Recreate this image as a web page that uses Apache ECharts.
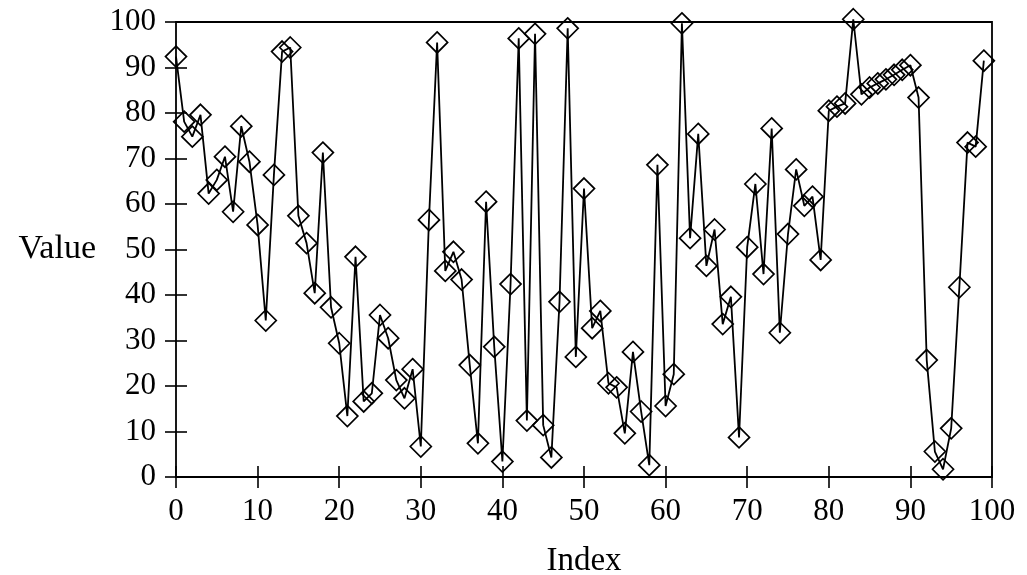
<!DOCTYPE html>
<html>
<head>
<meta charset="utf-8">
<script src="https://cdn.jsdelivr.net/npm/echarts@6/dist/echarts.min.js"></script>
<style>
  html, body { margin: 0; padding: 0; background: #fff; }
  #chart { width: 1027px; height: 575px; }
</style>
</head>
<body>
<div id="chart"></div>
<script>
// values, one per index 0..99
const values = [
  92.4, 78.1, 74.8, 79.6, 62.3, 65.3, 70.4, 58.3, 77.1, 69.3,
  55.4, 34.4, 66.4, 93.5, 94.4, 57.4, 51.4, 40.4, 71.3, 37.3,
  29.4, 13.4, 48.4, 16.6, 18.4, 35.6, 30.5, 21.3, 17.3, 23.7,
  6.7, 56.5, 95.5, 45.3, 49.5, 43.4, 24.6, 7.4, 60.5, 28.6,
  3.4, 42.4, 96.4, 12.4, 97.4, 11.4, 4.3, 38.5, 98.6, 26.4,
  63.4, 32.7, 36.5, 20.6, 19.7, 9.6, 27.5, 14.4, 2.6, 68.6,
  15.6, 22.6, 99.7, 52.5, 75.4, 46.4, 54.4, 33.6, 39.6, 8.7,
  50.5, 64.4, 44.6, 76.6, 31.7, 53.4, 67.6, 59.6, 61.6, 47.7,
  80.5, 81.4, 82.1, 100.6, 84.1, 85.6, 86.5, 87.4, 88.4, 89.5,
  90.5, 83.4, 25.7, 5.6, 1.7, 10.7, 41.7, 73.5, 72.6, 91.5
];
const xTitle = "Index";
const yTitle = "Value";

const points = values.map((v, i) => [i, v]);

const font = "Liberation Serif";
const tickStyle = { show: true, inside: true, length: 11, lineStyle: { color: "#000", width: 1.6 } };

const chart = echarts.init(document.getElementById("chart"));
chart.setOption({
  animation: false,
  backgroundColor: "#fff",
  grid: {
    left: 176, right: 35, top: 22, bottom: 98,
    outerBoundsMode: "none",
    containLabel: false,
    show: true, borderColor: "#000", borderWidth: 1.8,
  },
  xAxis: [
    {
      type: "value", min: 0, max: 100, interval: 10,
      name: xTitle, nameLocation: "middle", nameGap: 68,
      nameTextStyle: { fontFamily: font, fontSize: 33, color: "#000" },
      axisLine: { show: false },
      axisTick: tickStyle,
      axisLabel: { fontFamily: font, fontSize: 31, color: "#000", margin: 19 },
      splitLine: { show: false },
    },
    {
      type: "value", min: 0, max: 100, interval: 10, position: "top",
      axisLine: { show: false }, axisTick: tickStyle,
      axisLabel: { show: false }, splitLine: { show: false },
    },
  ],
  yAxis: [
    {
      type: "value", min: 0, max: 100, interval: 10,
      name: yTitle, nameLocation: "middle", nameRotate: 0, nameGap: 80,
      nameTextStyle: { fontFamily: font, fontSize: 34, color: "#000" },
      axisLine: { show: false },
      axisTick: tickStyle,
      axisLabel: { fontFamily: font, fontSize: 31, color: "#000", margin: 20 },
      splitLine: { show: false },
    },
    {
      type: "value", min: 0, max: 100, interval: 10, position: "right",
      axisLine: { show: false }, axisTick: tickStyle,
      axisLabel: { show: false }, splitLine: { show: false },
    },
  ],
  series: [
    {
      type: "line",
      data: points,
      clip: false,
      symbol: "diamond",
      symbolSize: 21,
      showAllSymbol: true,
      lineStyle: { color: "#000", width: 1.8 },
      itemStyle: { color: "rgba(0,0,0,0)", borderColor: "#000", borderWidth: 1.7 },
    },
  ],
});
</script>
</body>
</html>
